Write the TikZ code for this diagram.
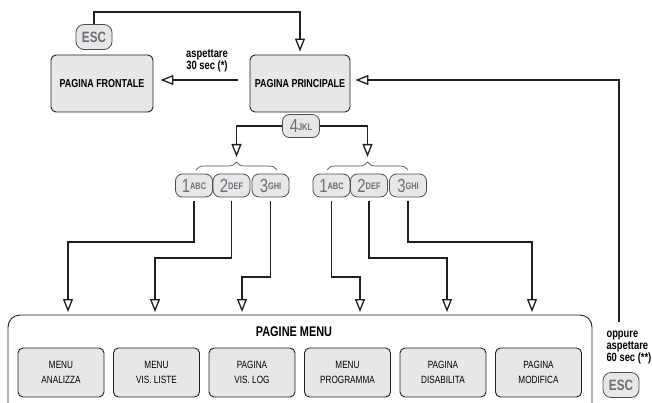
\documentclass[tikz,border=0pt]{standalone}
\usepackage{fontspec}
\setmainfont[FakeStretch=0.78]{Liberation Sans}
\usetikzlibrary{positioning,arrows.meta,decorations.pathreplacing}
\definecolor{boxfill}{HTML}{E6E7E8}
\definecolor{keytext}{HTML}{6D6E71}
\definecolor{linecol}{HTML}{231F20}
\newcommand\keylbl[2]{{\fontsize{19}{19}\selectfont #1}\raisebox{2.5pt}{\bfseries\fontsize{9.5}{9.5}\selectfont #2}}

\begin{document}
\begin{tikzpicture}[x=1pt,y=-1pt,
    page/.style={draw=linecol,fill=boxfill,rounded corners=5pt,line width=0.9pt,minimum width=100pt,minimum height=57pt,font=\bfseries\fontsize{11.5}{11.5}\selectfont},
    menubox/.style={draw=linecol,fill=boxfill,rounded corners=5pt,line width=0.9pt,minimum width=86pt,minimum height=49pt,align=center,font=\fontsize{10.5}{14.5}\selectfont},
    key/.style={draw=linecol!80,fill=boxfill,rounded corners=7pt,line width=0.8pt,minimum width=37pt,minimum height=23pt,inner sep=0pt,text=keytext},
    flow/.style={draw=linecol,line width=1.3pt,-{Triangle[open,length=13pt,width=10pt]}},
    brc/.style={draw=linecol!80,line width=0.7pt,decorate,decoration={brace,amplitude=8pt}},
    note/.style={font=\bfseries\fontsize{12}{12}\selectfont,align=left}]
            \useasboundingbox (0,0) rectangle (652,403);
            % top row
            \node[key,minimum width=36pt,minimum height=25pt,rounded corners=8pt] (esc1) at (94,37) {\bfseries\fontsize{15}{15}\selectfont ESC};
            \node[page,minimum width=102pt] (frontale) at (102,83.5) {PAGINA FRONTALE};
            \node[page] (principale) at (300,83.5) {PAGINA PRINCIPALE};
            \node[note,align=center] (wait30) at (207,61) {aspettare\\30 sec (*)};
            \draw[flow,shorten >=3pt] (esc1.north) |- (principale.north |- 0,12) -- (principale.north);
            \draw[flow,shorten <=12pt,shorten >=7pt] ([yshift=3.5pt]principale.west) -- ([yshift=3.5pt]frontale.east);
            % keys
            \node[key] (jkl) at (301,126) {\keylbl{4}{JKL}};
            \coordinate (bl) at (236.5,161);
            \coordinate (br) at (367.5,161);
            \draw[brc] (196,170) -- (277,170);
            \draw[brc] (327,170) -- (408,170);
            \draw[flow,shorten >=4pt] (jkl.west) -| (bl);
            \draw[flow,shorten >=4pt] (jkl.east) -| (br);
            \foreach \n/\x/\t in {1/194/ABC,2/231.5/DEF,3/270.5/GHI}{
                \node[key] (ka\n) at (\x,185.5) {\keylbl{\n}{\t}};
                \node[key] (kb\n) at (\x+137.5,185.5) {\keylbl{\n}{\t}};
            }
            % menu pages
            \draw[linecol,line width=0.9pt,rounded corners=12pt] (8,404) -- (8,315) -- (592,315) -- (592,404);
            \node[font=\bfseries\fontsize{14}{14}\selectfont] (pagine) at (294,332) {PAGINE MENU};
            \foreach \i/\t in {1/{MENU\\ANALIZZA},2/{MENU\\VIS. LISTE},3/{PAGINA\\VIS. LOG},4/{MENU\\PROGRAMMA},5/{PAGINA\\DISABILITA},6/{PAGINA\\MODIFICA}}
                \node[menubox] (m\i) at ({61+95.5*(\i-1)},372.5) {\t};
            \foreach \i/\x in {1/68,2/155,3/242,4/360,5/447,6/532}
                \coordinate (a\i) at (\x,312);
            \foreach \k/\a/\y in {ka1/a1/242,ka2/a2/258,ka3/a3/277,kb1/a4/277,kb2/a5/258,kb3/a6/242}
                \draw[flow,shorten <=4pt] (\k.south) |- (\a |- 0,\y) -- (\a);
            % way back
            \coordinate (r0) at (619,322);
            \node[note,anchor=north west] (wait60) at (603,327) {oppure\\aspettare\\60 sec (**)};
            \node[key,minimum width=36pt,minimum height=25pt,rounded corners=8pt] (esc2) at (621,385) {\bfseries\fontsize{15}{15}\selectfont ESC};
            \draw[flow,shorten >=5pt] (r0) |- ([yshift=3.5pt]principale.east);
\end{tikzpicture}
\end{document}
